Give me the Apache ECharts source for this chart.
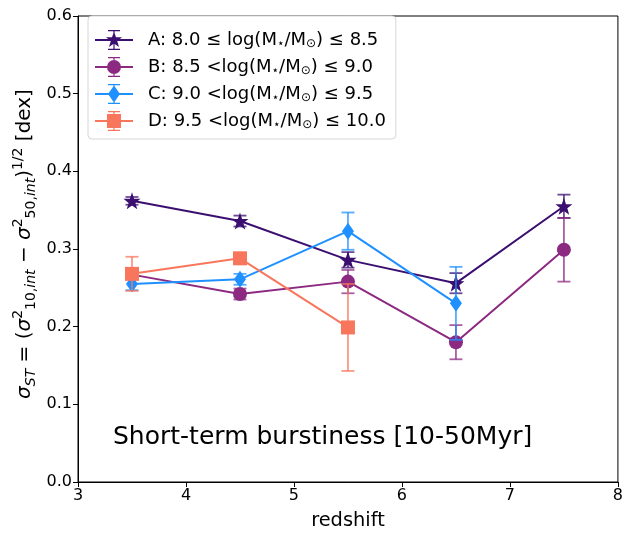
<!DOCTYPE html>
<html><head><meta charset="utf-8">
<script src="https://cdn.jsdelivr.net/npm/echarts@6/dist/echarts.min.js"></script>
<style>html,body{margin:0;padding:0;background:#fff}#c{width:626px;height:535px}</style>
</head><body><div id="c"></div>
<script>
// ---- data ----
const redshift = [3.5, 4.5, 5.5, 6.5, 7.5];
const valA = [0.362, 0.336, 0.286, 0.256, 0.355];
const errA = [0.005, 0.007, 0.010, 0.013, 0.015];
const valB = [0.267, 0.242, 0.258, 0.180, 0.299];
const errB = [0.006, 0.007, 0.015, 0.022, 0.041];
const valC = [0.255, 0.261, 0.323, 0.230, null];
const errC = [0.008, 0.007, 0.024, 0.047, null];
const valD = [0.268, 0.288, 0.199];
const errD = [0.022, 0.005, 0.056];
const names = [
  'A: 8.0 ≤ log(M⋆/M⊙) ≤ 8.5',
  'B: 8.5 <log(M⋆/M⊙) ≤ 9.0',
  'C: 9.0 <log(M⋆/M⊙) ≤ 9.5',
  'D: 9.5 <log(M⋆/M⊙) ≤ 10.0'
];
const colors = ['#3b0f70', '#8c2981', '#1e90ff', '#f8765c'];
const xTicks = [3, 4, 5, 6, 7, 8];
const yTicks = [0.0, 0.1, 0.2, 0.3, 0.4, 0.5, 0.6];

const starPath = 'path://M0,-10 L2.35,-3.24 L9.51,-3.09 L3.8,1.24 L5.88,8.09 L0,4 L-5.88,8.09 L-3.8,1.24 L-9.51,-3.09 L-2.35,-3.24Z';
const symbols = [starPath, 'circle', 'diamond', 'rect'];
const symSizes = [17, 14, [12, 17], 14];
const vals = [valA, valB, valC, valD];
const errs = [errA, errB, errC, errD];

// legend icons: line + errorbar + marker (38 x 20 box)
const iconBase = 'M0,9 L38,9 L38,11 L0,11 Z M18.4,0.6 L19.6,0.6 L19.6,19.4 L18.4,19.4 Z M13,0 L25,0 L25,1.2 L13,1.2 Z M13,18.8 L25,18.8 L25,20 L13,20 Z ';
const iconMarks = [
  'M19,1.5 L21,7.25 L27.08,7.37 L22.23,11.05 L24,16.88 L19,13.4 L14,16.88 L15.77,11.05 L10.92,7.37 L17,7.25 Z',
  'M12,10 A7,7 0 1,1 26,10 A7,7 0 1,1 12,10 Z',
  'M19,1.5 L25,10 L19,18.5 L13,10 Z',
  'M12,3 L26,3 L26,17 L12,17 Z'
];

const font = 'DejaVu Sans';
const series = [];
vals.forEach((v, i) => {
  const pts = [];
  const ebs = [];
  v.forEach((y, k) => {
    if (y === null) return;
    pts.push([redshift[k], y]);
    ebs.push([redshift[k], y, errs[i][k]]);
  });
  series.push({
    type: 'custom', name: 'eb' + i, z: 2 + i * 2, silent: true,
    data: ebs,
    encode: { x: 0, y: 1 },
    renderItem: function (params, api) {
      const x = api.value(0), y = api.value(1), e = api.value(2);
      const top = api.coord([x, y + e]);
      const bot = api.coord([x, y - e]);
      const cw = 6.5;
      const st = { stroke: colors[i], lineWidth: 1.8, opacity: 0.75 };
      return { type: 'group', children: [
        { type: 'line', shape: { x1: top[0], y1: top[1], x2: bot[0], y2: bot[1] }, style: st },
        { type: 'line', shape: { x1: top[0] - cw, y1: top[1], x2: top[0] + cw, y2: top[1] }, style: st },
        { type: 'line', shape: { x1: bot[0] - cw, y1: bot[1], x2: bot[0] + cw, y2: bot[1] }, style: st }
      ]};
    }
  });
  series.push({
    type: 'line', name: names[i], z: 3 + i * 2,
    data: pts,
    symbol: symbols[i], symbolSize: symSizes[i],
    showAllSymbol: true,
    lineStyle: { color: colors[i], width: 2 },
    itemStyle: { color: colors[i], opacity: 1 },
    emphasis: { disabled: true },
    animation: false
  });
});

function legendFmt(n) {
  const m = n.match(/^(.*log\(M)⋆\/M⊙(\).*)$/);
  return '{g| }{n|' + m[1] + '}{s|⋆}{n|/M}{s|⊙}{n|' + m[2] + '}';
}

const chart = echarts.init(document.getElementById('c'), null, { renderer: 'canvas' });
chart.setOption({
  animation: false,
  textStyle: { fontFamily: font },
  grid: { left: 78, right: 6, top: 16, bottom: 51, show: true, borderColor: '#000', borderWidth: 1, backgroundColor: 'transparent' },
  xAxis: {
    type: 'value', min: 3, max: 8, interval: 1,
    name: 'redshift', nameLocation: 'middle', nameGap: 29,
    nameTextStyle: { fontFamily: font, fontSize: 19.4, color: '#000' },
    axisLine: { lineStyle: { color: '#000', width: 1 } },
    axisTick: { show: true, length: 5, lineStyle: { color: '#000' } },
    axisLabel: { fontFamily: font, fontSize: 16, color: '#000', margin: 6,
      formatter: v => xTicks.includes(v) ? String(v) : '' },
    splitLine: { show: false }
  },
  yAxis: {
    type: 'value', min: 0, max: 0.6, interval: 0.1,
    axisLine: { show: true, lineStyle: { color: '#000', width: 1 } },
    axisTick: { show: true, length: 5, lineStyle: { color: '#000' } },
    axisLabel: { fontFamily: font, fontSize: 16, color: '#000', margin: 6,
      formatter: v => { const t = yTicks.find(q => Math.abs(q - v) < 1e-9); return t === undefined ? '' : t.toFixed(1); } },
    splitLine: { show: false }
  },
  legend: {
    orient: 'vertical', left: 88, top: 16,
    data: names.map((n, i) => ({ name: n, icon: 'path://' + iconBase + iconMarks[i] })),
    itemWidth: 38, itemHeight: 20, itemGap: 7,
    padding: [14, 10, 8, 7],
    backgroundColor: '#fff', borderColor: '#d6d6d6', borderWidth: 1, borderRadius: 4,
    itemStyle: { borderWidth: 0 },
    formatter: legendFmt,
    textStyle: {
      fontFamily: font, fontSize: 18, color: '#000',
      rich: {
        g: { width: 10, fontSize: 18, lineHeight: 20 },
        n: { fontFamily: font, fontSize: 18, color: '#000', lineHeight: 20 },
        s: { fontFamily: font, fontSize: 12, color: '#000', verticalAlign: 'bottom', lineHeight: 20, padding: [6, 0, 0, 0] }
      }
    },
    selectedMode: false
  },
  series: series,
  graphic: [
    {
      type: 'text', x: 113, y: 437,
      style: { text: 'Short-term burstiness [10-50Myr]', fontFamily: font, fontSize: 25, fill: '#000', align: 'left', verticalAlign: 'middle' }
    },
    {
      type: 'text', x: 25, y: 244, rotation: Math.PI / 2,
      style: {
        text: '{i|σ}{si|ST}{n| = (}{i|σ}{sup|2}{su|10,}{si|int}{n| − }{i|σ}{sup|2}{su|50,}{si|int}{n|)}{sup|1/2}{n| [dex]}',
        align: 'center', verticalAlign: 'middle',
        rich: {
          n: { fontFamily: font, fontSize: 20, fill: '#000' },
          i: { fontFamily: font, fontSize: 20, fontStyle: 'italic', fill: '#000' },
          si: { fontFamily: font, fontSize: 14, fontStyle: 'italic', fill: '#000', verticalAlign: 'bottom', padding: [13, 0, 0, 0] },
          su: { fontFamily: font, fontSize: 14, fill: '#000', verticalAlign: 'bottom', padding: [13, 0, 0, 0] },
          sup: { fontFamily: font, fontSize: 14, fill: '#000', verticalAlign: 'top', padding: [0, 0, 11, 0] }
        }
      }
    }
  ]
});
</script></body></html>
